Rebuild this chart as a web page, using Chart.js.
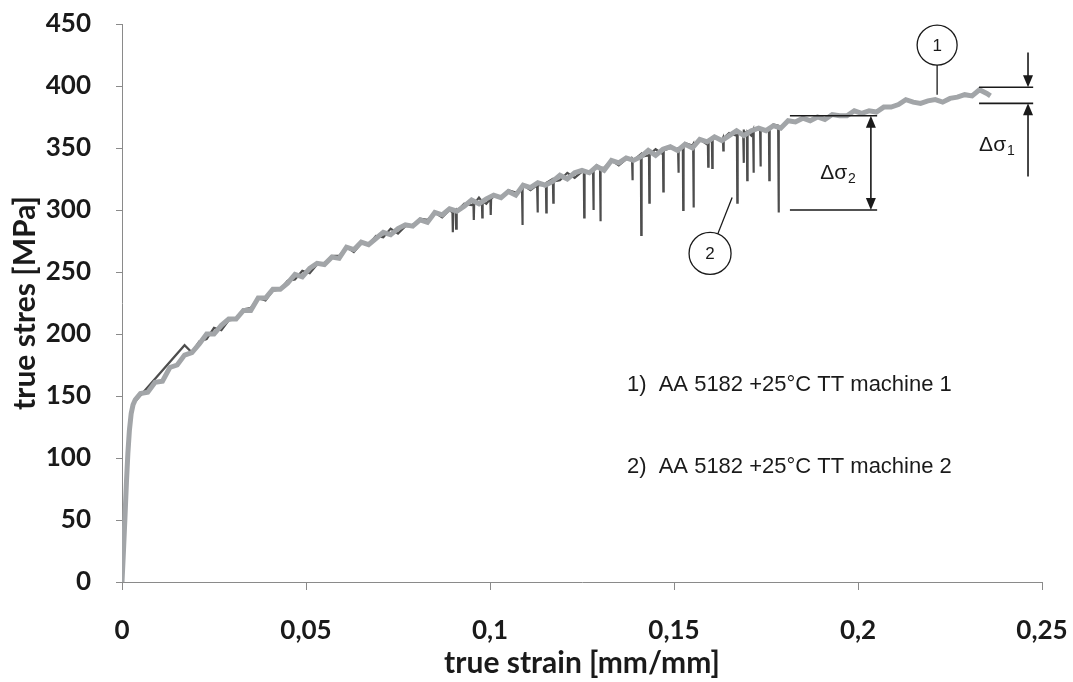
<!DOCTYPE html>
<html>
<head>
<meta charset="utf-8">
<script src="https://cdn.jsdelivr.net/npm/chart.js@4.4.1/dist/chart.umd.min.js"></script>
<style>
  html, body { margin: 0; padding: 0; background: #fff; }
  #wrap { width: 1073px; height: 682px; }
</style>
</head>
<body>
<div id="wrap"><canvas id="stressChart" width="1073" height="682"></canvas></div>
<script>
// Series names and axis tick labels
const seriesLabels = ['AA 5182 +25°C TT machine 1', 'AA 5182 +25°C TT machine 2'];
const xTickLabels = ['0', '0,05', '0,1', '0,15', '0,2', '0,25'];

// Machine 1 (light grey curve) - true strain [mm/mm] / true stress [MPa]
const m1Strain = [0, 0.0004, 0.0008, 0.0012, 0.0016, 0.002, 0.0025, 0.003, 0.0036,
  0.005, 0.007, 0.009, 0.011, 0.013, 0.015, 0.017, 0.019, 0.021, 0.023,
  0.025, 0.027, 0.029, 0.031, 0.033, 0.035, 0.037, 0.039, 0.041, 0.043,
  0.045, 0.047, 0.049, 0.051, 0.053, 0.055, 0.057, 0.059, 0.061, 0.063,
  0.065, 0.067, 0.069, 0.071, 0.073, 0.075, 0.077, 0.079, 0.081, 0.083,
  0.085, 0.087, 0.089, 0.091, 0.093, 0.095, 0.097, 0.099, 0.101, 0.103,
  0.105, 0.107, 0.109, 0.111, 0.113, 0.115, 0.117, 0.119, 0.121, 0.123,
  0.125, 0.127, 0.129, 0.131, 0.133, 0.135, 0.137, 0.139, 0.141, 0.143,
  0.145, 0.147, 0.149, 0.151, 0.153, 0.155, 0.157, 0.159, 0.161, 0.163,
  0.165, 0.167, 0.169, 0.171, 0.173, 0.175, 0.177, 0.179, 0.181, 0.183,
  0.185, 0.187, 0.189, 0.191, 0.193, 0.195, 0.197, 0.199, 0.201, 0.203,
  0.205, 0.207, 0.209, 0.211, 0.213, 0.215, 0.217, 0.219, 0.221, 0.223,
  0.225, 0.227, 0.229, 0.231, 0.233, 0.235, 0.236];
const m1Stress = [0, 25, 52, 80, 104, 122, 136, 143, 147,
  152, 153, 161, 162, 173, 175, 183, 185, 192, 200,
  200, 207, 212, 212, 219, 219, 229, 229, 236, 236,
  241, 248, 246, 253, 257, 256, 262, 261, 270, 268,
  274, 272, 277, 282, 280, 285, 288, 287, 292, 290,
  298, 296, 301, 299, 303, 308, 305, 309, 312, 310,
  315, 312, 320, 318, 322, 320, 323, 328, 325, 330,
  332, 330, 335, 332, 340, 338, 342, 340, 343, 348,
  344, 349, 351, 348, 353, 350, 357, 355, 359, 356,
  360, 364, 360, 364, 366, 364, 368, 366, 372, 371,
  374, 372, 375, 373, 377, 376, 376, 380, 378, 380,
  379, 383, 383, 385, 389, 387, 386, 388, 389, 387,
  390, 391, 393, 392, 397, 394, 392];

// Machine 2 (dark curve, serrated flow)
const m2Strain = [0, 0.0005, 0.001, 0.0015, 0.002, 0.0025, 0.003, 0.004, 0.017,
  0.019, 0.021, 0.023, 0.025, 0.027, 0.029, 0.031, 0.033, 0.035, 0.037,
  0.039, 0.041, 0.043, 0.045, 0.047, 0.049, 0.051, 0.053, 0.055, 0.057,
  0.059, 0.061, 0.063, 0.065, 0.067, 0.069, 0.071, 0.073, 0.075, 0.077,
  0.079, 0.081, 0.083, 0.085, 0.087, 0.089, 0.091, 0.093, 0.095, 0.097,
  0.099, 0.101, 0.103, 0.105, 0.107, 0.109, 0.111, 0.113, 0.115, 0.117,
  0.119, 0.121, 0.123, 0.125, 0.127, 0.129, 0.131, 0.133, 0.135, 0.137,
  0.139, 0.141, 0.143, 0.145, 0.147, 0.149, 0.151, 0.153, 0.155, 0.157,
  0.159, 0.161, 0.163, 0.165, 0.167, 0.169, 0.171, 0.173, 0.175, 0.177, 0.1785];
const m2Stress = [0, 32, 64, 95, 120, 137, 144, 147, 191,
  185, 194, 196, 205, 203, 211, 212, 220, 221, 229,
  227, 235, 236, 243, 244, 251, 249, 256, 256, 263,
  263, 270, 266, 273, 272, 279, 278, 285, 281, 287,
  287, 293, 292, 298, 294, 300, 299, 305, 304, 310,
  305, 311, 310, 316, 314, 320, 316, 321, 320, 325,
  324, 330, 326, 331, 330, 336, 334, 340, 336, 341,
  340, 345, 344, 349, 345, 350, 348, 354, 352, 357,
  353, 358, 356, 362, 360, 365, 360, 365, 364, 369, 368];

// Stress drops on machine 2: strain, stress before the drop, lowest stress
const dropStrain = [0.0898, 0.0907, 0.0955, 0.0978, 0.1001, 0.1087, 0.1128, 0.1152, 0.1171,
  0.1255, 0.128, 0.1299, 0.1386, 0.141, 0.1432, 0.147, 0.1511, 0.1524, 0.1552,
  0.1592, 0.1603, 0.1633, 0.1671, 0.1688, 0.1698, 0.1715, 0.1734, 0.1758, 0.1783];
const dropTop = [298, 300, 305, 307, 309, 316, 320, 322, 323,
  331, 333, 334, 341, 343, 345, 348, 350, 351, 353,
  356, 357, 358, 361, 362, 363, 364, 364, 366, 368];
const dropLow = [282, 285, 292, 294, 296, 288, 298, 298, 306,
  294, 300, 291, 324, 280, 306, 315, 330, 300, 302,
  335, 334, 348, 306, 338, 324, 330, 335, 324, 298];

const m1Points = m1Strain.map((x, i) => ({x: x, y: m1Stress[i]}));

let m2Points = m2Strain.map((x, i) => ({x: x, y: m2Stress[i]}));
dropStrain.forEach((x, i) => {
    m2Points.push({x: x, y: dropTop[i]});
    m2Points.push({x: x + 0.0001, y: dropLow[i]});
    m2Points.push({x: x + 0.0002, y: dropTop[i]});
});
m2Points.sort((a, b) => a.x - b.x);

// Annotation placement, in data units
const notes = {
    circle1: {x: 0.2215, y: 433, to: 393},
    circle2: {x: 0.1598, y: 265, toX: 0.1658, toY: 310},
    ds2: {x1: 0.1815, x2: 0.2052, top: 376, bottom: 300, arrowX: 0.2035, textX: 0.1946, textY: 330},
    ds1: {x1: 0.2329, x2: 0.2476, top: 399, bottom: 386, arrowX: 0.2462, from: 427, upFrom: 327, textX: 0.2378, textY: 352},
    legendX: 0.1372,
    legendY: [159, 93]
};

const textFont = "'Liberation Sans', Arial, sans-serif";

function arrowHead(ctx, x, y, dir) {
    // dir = 1 points down, -1 points up; tip at (x, y)
    ctx.beginPath();
    ctx.moveTo(x, y);
    ctx.lineTo(x - 5, y - dir * 12);
    ctx.lineTo(x + 5, y - dir * 12);
    ctx.closePath();
    ctx.fill();
}

function deltaSigma(ctx, cx, cy, sub) {
    ctx.font = '21px ' + textFont;
    ctx.textAlign = 'left';
    ctx.textBaseline = 'middle';
    const w = ctx.measureText('Δσ').width;
    const x0 = cx - (w + 9) / 2;
    ctx.fillText('Δσ', x0, cy);
    ctx.font = '14px ' + textFont;
    ctx.fillText(sub, x0 + w + 1, cy + 6);
}

const annotations = {
    id: 'annotations',
    afterDatasetsDraw(chart) {
        const ctx = chart.ctx;
        const sx = chart.scales.x, sy = chart.scales.y;
        const px = v => sx.getPixelForValue(v);
        const py = v => sy.getPixelForValue(v);
        ctx.save();
        ctx.strokeStyle = '#1a1a1a';
        ctx.fillStyle = '#1a1a1a';
        ctx.lineWidth = 1.3;

        // circle 1 with leader
        const c1 = notes.circle1;
        ctx.beginPath();
        ctx.arc(px(c1.x), py(c1.y), 20, 0, Math.PI * 2);
        ctx.stroke();
        ctx.beginPath();
        ctx.moveTo(px(c1.x), py(c1.y) + 20);
        ctx.lineTo(px(c1.x), py(c1.to));
        ctx.stroke();

        // circle 2 with leader
        const c2 = notes.circle2;
        const cx2 = px(c2.x), cy2 = py(c2.y);
        const dx = px(c2.toX) - cx2, dy = py(c2.toY) - cy2;
        const len = Math.hypot(dx, dy);
        ctx.beginPath();
        ctx.arc(cx2, cy2, 21, 0, Math.PI * 2);
        ctx.stroke();
        ctx.beginPath();
        ctx.moveTo(cx2 + dx / len * 21, cy2 + dy / len * 21);
        ctx.lineTo(px(c2.toX), py(c2.toY));
        ctx.stroke();

        ctx.font = '17px ' + textFont;
        ctx.textAlign = 'center';
        ctx.textBaseline = 'middle';
        ctx.fillText('1', px(c1.x), py(c1.y) + 1);
        ctx.fillText('2', cx2, cy2 + 1);

        // delta sigma 2
        const d2 = notes.ds2;
        ctx.lineWidth = 1.6;
        ctx.beginPath();
        ctx.moveTo(px(d2.x1), py(d2.top));
        ctx.lineTo(px(d2.x2), py(d2.top));
        ctx.moveTo(px(d2.x1), py(d2.bottom));
        ctx.lineTo(px(d2.x2), py(d2.bottom));
        ctx.moveTo(px(d2.arrowX), py(d2.top) + 10);
        ctx.lineTo(px(d2.arrowX), py(d2.bottom) - 10);
        ctx.stroke();
        arrowHead(ctx, px(d2.arrowX), py(d2.top), -1);
        arrowHead(ctx, px(d2.arrowX), py(d2.bottom), 1);
        deltaSigma(ctx, px(d2.textX), py(d2.textY), '2');

        // delta sigma 1
        const d1 = notes.ds1;
        ctx.lineWidth = 1.6;
        ctx.beginPath();
        ctx.moveTo(px(d1.x1), py(d1.top));
        ctx.lineTo(px(d1.x2), py(d1.top));
        ctx.moveTo(px(d1.x1), py(d1.bottom));
        ctx.lineTo(px(d1.x2), py(d1.bottom));
        ctx.moveTo(px(d1.arrowX), py(d1.from));
        ctx.lineTo(px(d1.arrowX), py(d1.top) - 10);
        ctx.moveTo(px(d1.arrowX), py(d1.upFrom));
        ctx.lineTo(px(d1.arrowX), py(d1.bottom) + 10);
        ctx.stroke();
        arrowHead(ctx, px(d1.arrowX), py(d1.top), 1);
        arrowHead(ctx, px(d1.arrowX), py(d1.bottom), -1);
        deltaSigma(ctx, px(d1.textX), py(d1.textY), '1');

        // series captions
        ctx.font = '22px ' + textFont;
        ctx.textAlign = 'left';
        ctx.textBaseline = 'middle';
        seriesLabels.forEach((label, i) => {
            ctx.fillText((i + 1) + ')  ' + label, px(notes.legendX), py(notes.legendY[i]));
        });
        ctx.restore();
    }
};

const axisFont = {family: "Lato, 'Open Sans', sans-serif", size: 26, weight: 'bold'};
const titleFont = {family: "Lato, 'Open Sans', sans-serif", size: 30, weight: 'bold'};

const ctx = document.getElementById('stressChart').getContext('2d');
new Chart(ctx, {
    type: 'line',
    data: {
        datasets: [
            {
                label: seriesLabels[0],
                data: m1Points,
                borderColor: '#a2a5a8',
                borderWidth: 5,
                pointRadius: 0,
                tension: 0,
                order: 0
            },
            {
                label: seriesLabels[1],
                data: m2Points,
                borderColor: '#4d4d4d',
                borderWidth: 2.2,
                pointRadius: 0,
                tension: 0,
                order: 1
            }
        ]
    },
    options: {
        responsive: false,
        animation: false,
        devicePixelRatio: 1,
        layout: {padding: {left: 0, top: 24, right: 31, bottom: 0}},
        plugins: {
            legend: {display: false},
            tooltip: {enabled: false}
        },
        scales: {
            x: {
                type: 'linear',
                min: 0,
                max: 0.25,
                afterFit(scale) {
                    scale.height = 100;
                    scale.paddingLeft = 0;
                    scale.paddingRight = 0;
                },
                border: {display: true, color: '#8a8a8a', width: 1, dash: [1, 1]},
                grid: {drawOnChartArea: false, drawTicks: true, tickLength: 8, color: '#8a8a8a'},
                ticks: {
                    stepSize: 0.05,
                    padding: 25,
                    color: '#1a1a1a',
                    font: axisFont,
                    maxRotation: 0,
                    callback: (value, index) => xTickLabels[index]
                },
                title: {
                    display: true,
                    text: 'true strain [mm/mm]',
                    color: '#1a1a1a',
                    font: titleFont,
                    padding: {top: 0, bottom: 1}
                }
            },
            y: {
                min: 0,
                max: 450,
                afterFit(scale) {
                    scale.width = 122;
                    scale.paddingTop = 0;
                    scale.paddingBottom = 0;
                },
                border: {display: true, color: '#8a8a8a', width: 1, dash: [1, 1]},
                grid: {drawOnChartArea: false, drawTicks: true, tickLength: 6, color: '#8a8a8a'},
                ticks: {
                    stepSize: 50,
                    padding: 25,
                    color: '#1a1a1a',
                    font: axisFont
                },
                title: {
                    display: true,
                    text: 'true stres [MPa]',
                    color: '#1a1a1a',
                    font: titleFont,
                    padding: {top: 7, bottom: 0}
                }
            }
        }
    },
    plugins: [annotations]
});
</script>
</body>
</html>
